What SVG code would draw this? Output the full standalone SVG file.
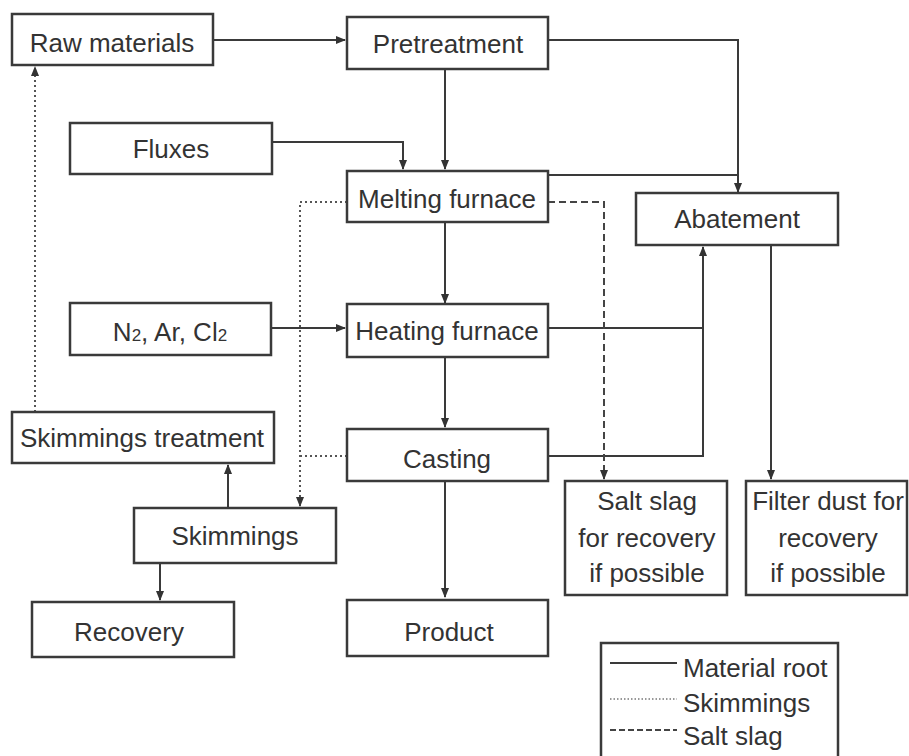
<svg xmlns="http://www.w3.org/2000/svg" width="909" height="756" viewBox="0 0 909 756">
<defs>
<marker id="ah" markerWidth="10" markerHeight="8" refX="9" refY="4" orient="auto" markerUnits="userSpaceOnUse">
<path d="M0,0 L10,4 L0,8 Z" fill="#333"/>
</marker>
<style>
.box{fill:#fff;stroke:#3a3a3a;stroke-width:2.5}
.t{font-family:"Liberation Sans",Arial,sans-serif;font-size:26px;fill:#333;text-anchor:middle}
.lt{font-family:"Liberation Sans",Arial,sans-serif;font-size:26px;fill:#333}
.s{fill:none;stroke:#3a3a3a;stroke-width:2}
.d{fill:none;stroke:#555;stroke-width:2;stroke-dasharray:2 3}
.k{fill:none;stroke:#444;stroke-width:2;stroke-dasharray:7 4}
</style>
</defs>
<rect width="909" height="756" fill="#fff"/>
<g id="connectors">
<path class="s" d="M213,40 H345" marker-end="url(#ah)"/>
<path class="s" d="M445,69 V169" marker-end="url(#ah)"/>
<path class="s" d="M272,142 H403 V169" marker-end="url(#ah)"/>
<path class="s" d="M548,40 H738 V192" marker-end="url(#ah)"/>
<path class="s" d="M548,175 H738"/>
<path class="s" d="M445,222 V303" marker-end="url(#ah)"/>
<path class="s" d="M271,328 H345" marker-end="url(#ah)"/>
<path class="s" d="M548,328 H703"/>
<path class="s" d="M548,456 H703 V247" marker-end="url(#ah)"/>
<path class="s" d="M445,357 V427" marker-end="url(#ah)"/>
<path class="s" d="M445,481 V597" marker-end="url(#ah)"/>
<path class="s" d="M771,245 V479" marker-end="url(#ah)"/>
<path class="k" d="M548,202 H604 V479" marker-end="url(#ah)"/>
<path class="d" d="M347,202 H300 V506" marker-end="url(#ah)"/>
<path class="d" d="M347,456 H300"/>
<path class="d" d="M35,412 V67" marker-end="url(#ah)"/>
<path class="s" d="M228,508 V465" marker-end="url(#ah)"/>
<path class="s" d="M160,563 V600" marker-end="url(#ah)"/>
</g>
<g id="raw-materials"><rect class="box" x="12" y="14" width="201" height="51"/><text class="t" x="112" y="52">Raw materials</text></g>
<g id="pretreatment"><rect class="box" x="347" y="17" width="201" height="52"/><text class="t" x="448" y="53">Pretreatment</text></g>
<g id="fluxes"><rect class="box" x="70" y="123" width="202" height="51"/><text class="t" x="171" y="158">Fluxes</text></g>
<g id="melting-furnace"><rect class="box" x="347" y="171" width="201" height="51"/><text class="t" x="447" y="208">Melting furnace</text></g>
<g id="abatement"><rect class="box" x="636" y="193" width="202" height="52"/><text class="t" x="737" y="228">Abatement</text></g>
<g id="gases"><rect class="box" x="70" y="303" width="201" height="52"/><text class="t" x="170" y="341">N<tspan font-size="17">2</tspan>, Ar, Cl<tspan font-size="17">2</tspan></text></g>
<g id="heating-furnace"><rect class="box" x="347" y="304" width="201" height="53"/><text class="t" x="447" y="340">Heating furnace</text></g>
<g id="skimmings-treatment"><rect class="box" x="12" y="412" width="262" height="51"/><text class="t" x="142" y="447">Skimmings treatment</text></g>
<g id="casting"><rect class="box" x="347" y="429" width="201" height="52"/><text class="t" x="447" y="468">Casting</text></g>
<g id="skimmings"><rect class="box" x="134" y="508" width="202" height="55"/><text class="t" x="235" y="545">Skimmings</text></g>
<g id="salt-slag"><rect class="box" x="565" y="481" width="162" height="114"/><text class="t" x="647" y="510">Salt slag</text><text class="t" x="647" y="547">for recovery</text><text class="t" x="647" y="582">if possible</text></g>
<g id="filter-dust"><rect class="box" x="746" y="481" width="161" height="114"/><text class="t" x="828" y="510">Filter dust for</text><text class="t" x="828" y="547">recovery</text><text class="t" x="828" y="582">if possible</text></g>
<g id="recovery"><rect class="box" x="32" y="602" width="202" height="55"/><text class="t" x="129" y="641">Recovery</text></g>
<g id="product"><rect class="box" x="347" y="600" width="201" height="56"/><text class="t" x="449" y="641">Product</text></g>
<g id="legend">
<rect class="box" x="601" y="643" width="237" height="120"/>
<line class="s" x1="610" y1="663" x2="677" y2="663"/>
<text class="lt" x="683" y="677">Material root</text>
<line class="d" x1="610" y1="699" x2="677" y2="699" style="stroke-width:1.5;stroke-dasharray:1.5 2;stroke:#777"/>
<text class="lt" x="683" y="712">Skimmings</text>
<line class="k" x1="610" y1="730" x2="677" y2="730" style="stroke-dasharray:6 3"/>
<text class="lt" x="683" y="745">Salt slag</text>
</g>
</svg>
